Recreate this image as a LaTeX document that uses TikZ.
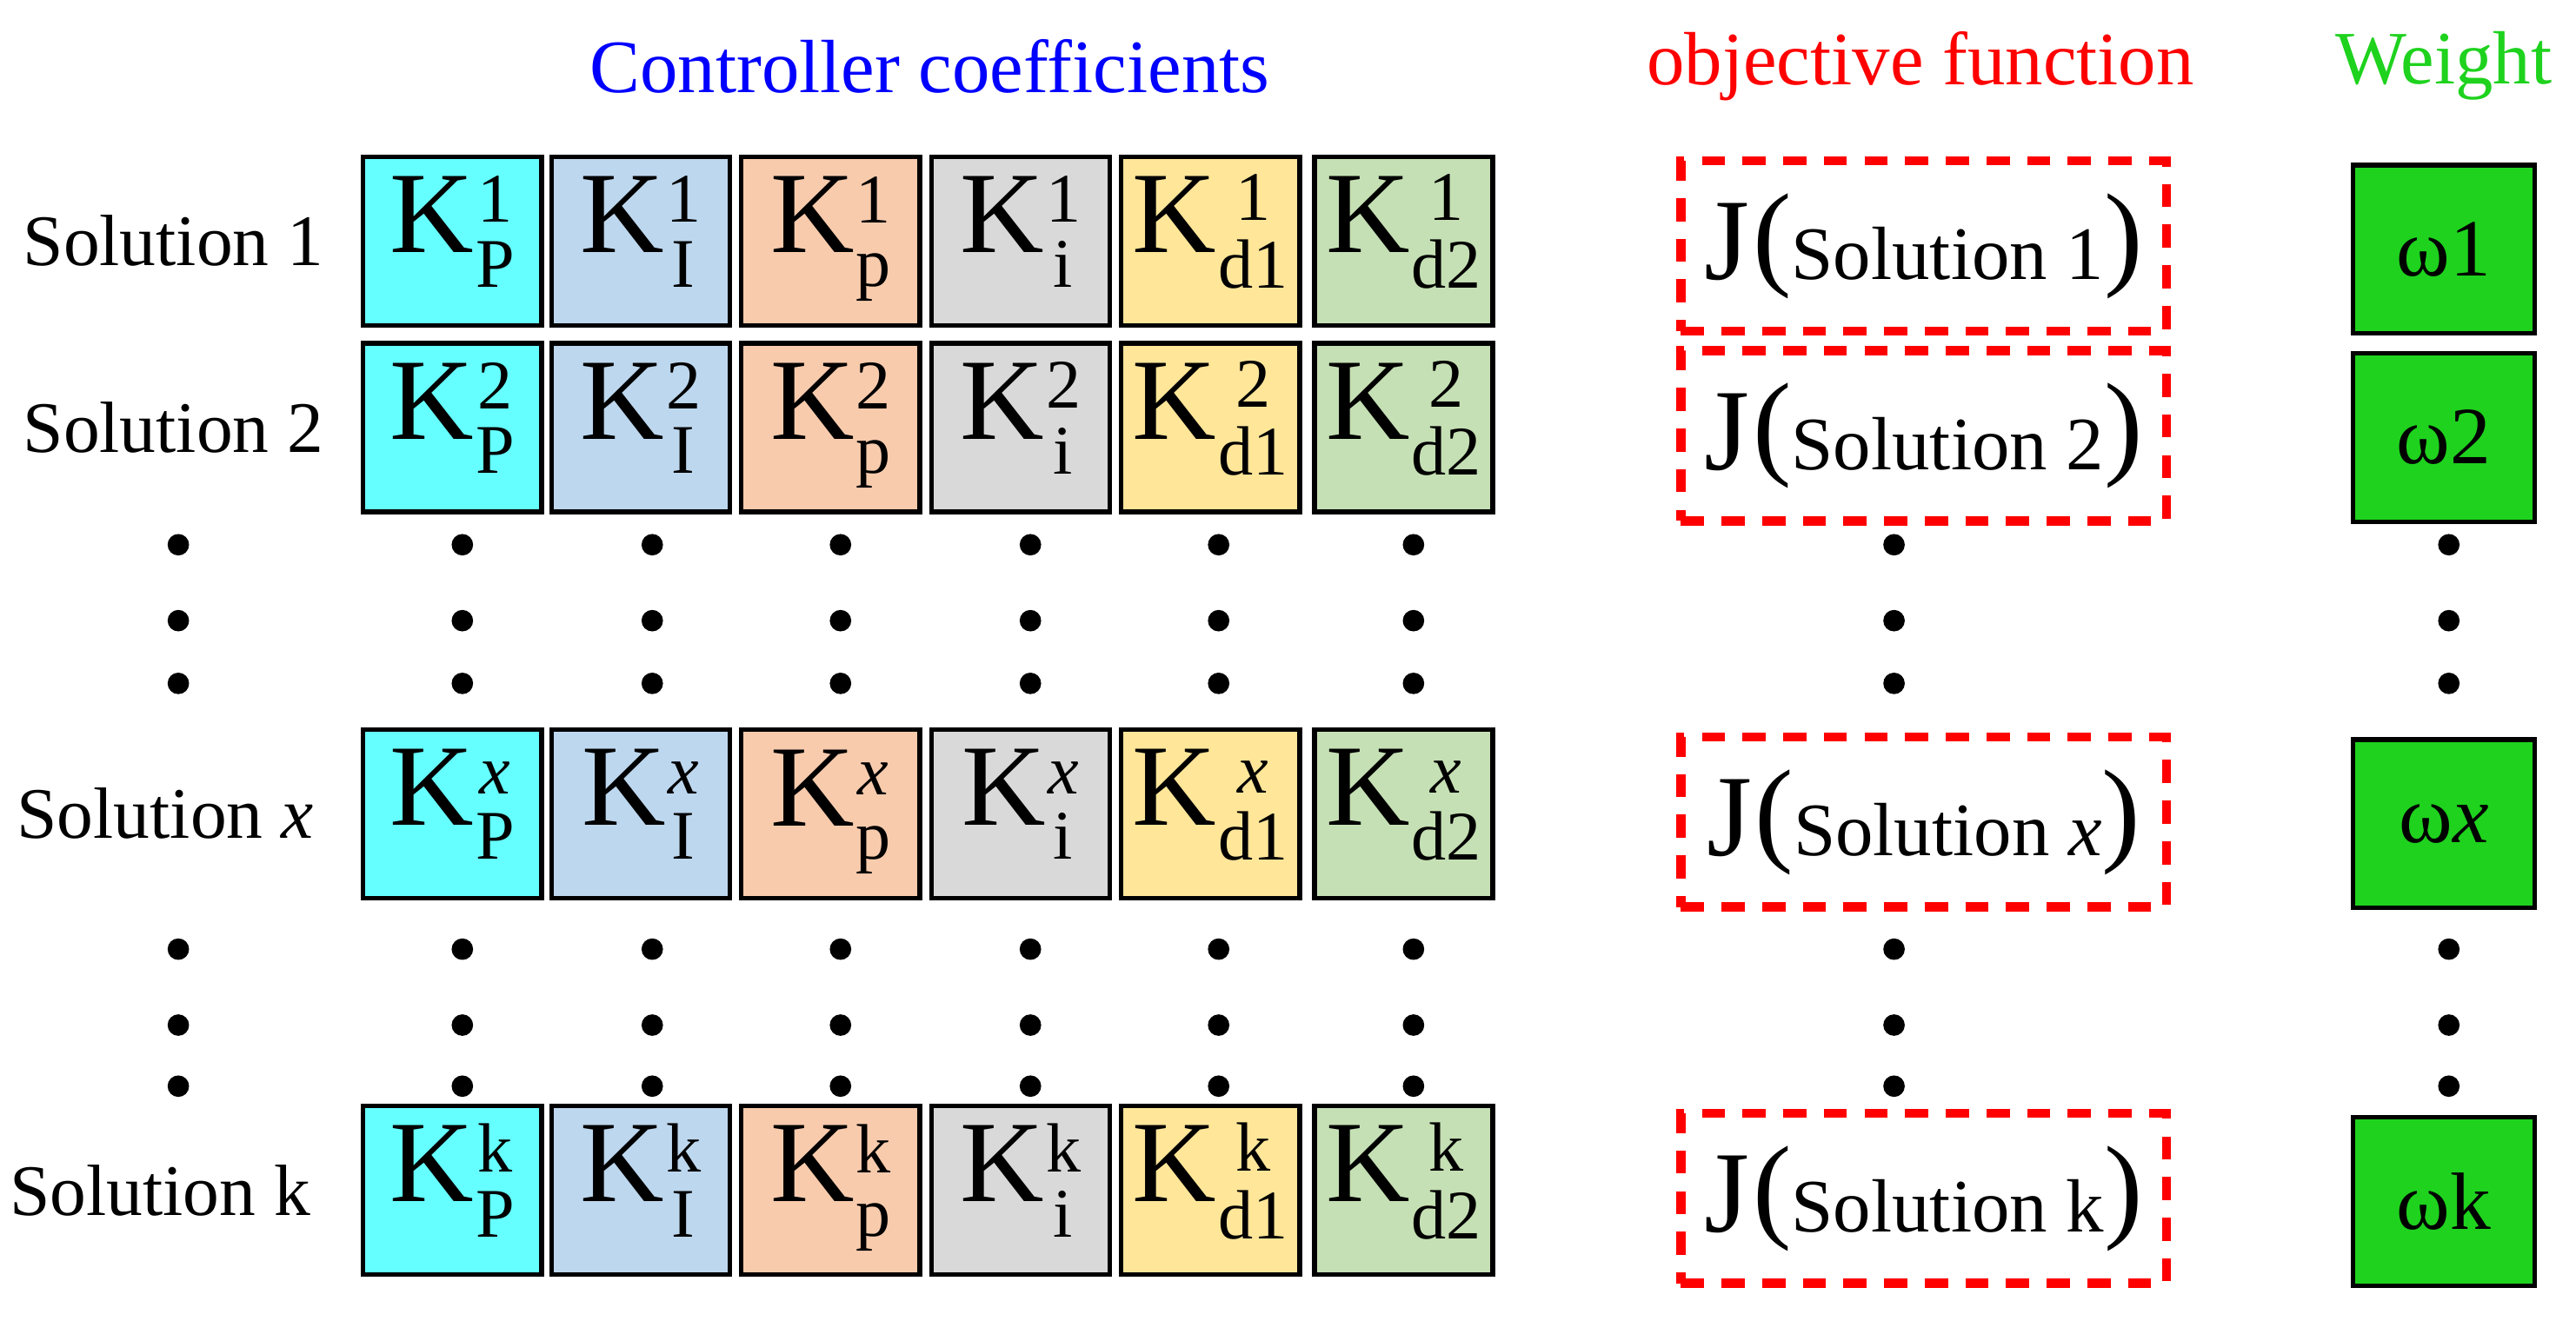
\documentclass[tikz,border=0pt]{standalone}
\usepackage{fontspec}
\setmainfont{Liberation Serif}
\begin{document}
\newcommand{\KK}[2]{\fontsize{20}{20}\selectfont K\kern0.3pt\raisebox{-1pt}{\fontsize{12}{11}\selectfont\begin{tabular}{@{}c@{}}#1\\[0pt]#2\end{tabular}}}
\definecolor{gr}{RGB}{30,210,30}
\begin{tikzpicture}[x=0.01cm,y=-0.01cm,
  kb/.style={draw=black,line width=0.8pt,minimum width=1.08cm,minimum height=1.02cm,inner sep=0pt},
  jb/.style={draw=red,dashed,line width=1.6pt,dash pattern=on 4pt off 3pt,minimum width=2.94cm,minimum height=1.03cm,inner sep=0pt},
  wb/.style={draw=black,fill=gr,line width=0.8pt,minimum width=1.1cm,minimum height=1.02cm,inner sep=0pt,font=\fontsize{14}{14}\selectfont},
  lab/.style={font=\fontsize{12.5}{12.5}\selectfont},
  dot/.style={circle,fill=black,inner sep=0pt,minimum size=0.13cm}]
\useasboundingbox (0,0) rectangle (1560,800);
\definecolor{c1}{RGB}{102,255,255}\definecolor{c2}{RGB}{189,215,238}\definecolor{c3}{RGB}{248,203,173}
\definecolor{c4}{RGB}{217,217,217}\definecolor{c5}{RGB}{255,230,153}\definecolor{c6}{RGB}{197,224,180}
\node[text=blue,font=\fontsize{13}{13}\selectfont] (t1) at (563,40) {Controller coefficients};
\node[text=red,font=\fontsize{13}{13}\selectfont] (t2) at (1163,40) {objective function};
\node[text=gr,font=\fontsize{13}{13}\selectfont] (t3) at (1480,40) {Weight};
\foreach \r/\y/\s/\lx/\jy/\wy in {1/146/1/105/149/151, 2/259/2/105/264/265, x/493/\textit{x}/100/498/499, k/721/k/97/726/728}{
  \node[lab] (L\r) at (\lx,\y) {Solution \s};
  \foreach \c/\x/\col/\sub in {1/274/c1/P,2/388/c2/I,3/503/c3/p,4/618/c4/i,5/733/c5/d1,6/850/c6/d2}{
    \node[kb,fill=\col] (K\r\c) at (\x,\y) {\KK{\s}{\sub}};
  }
  \node[jb] (J\r) at (1165,\jy) {\fontsize{20}{20}\selectfont J\kern0.5pt\raisebox{1pt}{(}\fontsize{13}{13}\selectfont Solution \s\raisebox{1pt}{\fontsize{20}{20}\selectfont)}};
  \node[wb] (W\r) at (1480,\wy) {ω\s};
}
\foreach \x in {108,280,395,509,624,738,856,1147,1483}{
  \node[dot] (da\x) at (\x,330) {};\node[dot] (db\x) at (\x,376) {};\node[dot] (dc\x) at (\x,414) {};
  \node[dot] (dd\x) at (\x,575) {};\node[dot] (de\x) at (\x,621) {};\node[dot] (df\x) at (\x,658) {};
}
\end{tikzpicture}
\end{document}
